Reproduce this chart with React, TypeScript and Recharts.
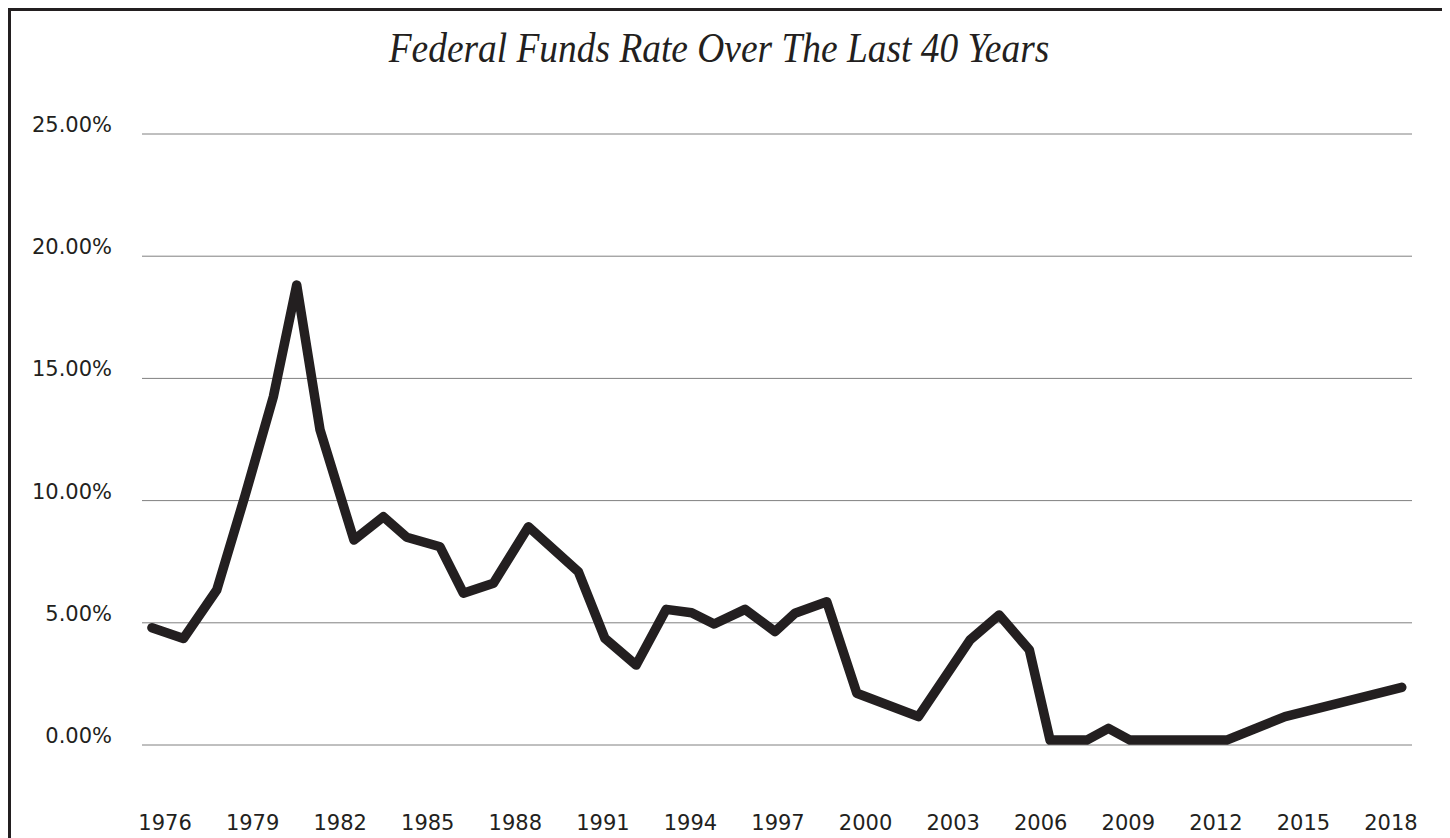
import { LineChart, Line, XAxis, YAxis, CartesianGrid } from 'recharts';

// decimal year at which each point sits on the dated axis
const years = [
  1975.55, 1976.63, 1977.77, 1978.74, 1979.71, 1980.51, 1981.31, 1982.47,
  1983.48, 1984.28, 1985.42, 1986.22, 1987.25, 1988.45, 1990.16, 1991.07,
  1992.14, 1993.17, 1994.04, 1994.81, 1995.87, 1996.9, 1997.58, 1998.67,
  1999.7, 2001.81, 2003.58, 2004.58, 2005.61, 2006.32, 2007.58, 2008.32,
  2009.06, 2012.37, 2014.37, 2018.37,
];

// federal funds rate, percent
const rates = [
  4.8, 4.36, 6.34, 10.2, 14.25, 18.82, 12.89, 8.39,
  9.34, 8.5, 8.11, 6.21, 6.62, 8.93, 7.09, 4.36,
  3.27, 5.55, 5.41, 4.95, 5.55, 4.64, 5.39, 5.86,
  2.12, 1.16, 4.3, 5.32, 3.89, 0.2, 0.2, 0.68,
  0.2, 0.2, 1.16, 2.36,
];

const yearTicks = [1976, 1979, 1982, 1985, 1988, 1991, 1994, 1997, 2000, 2003, 2006, 2009, 2012, 2015, 2018];
const rateTicks = [0, 5, 10, 15, 20, 25];
const yearDomain = [1975.21, 2018.72];

const data = years.map((year, i) => ({ year, rate: rates[i] }));

const INK = '#231f20';
const LABEL_FONT = '"DejaVu Sans", Verdana, sans-serif';

const RateTick = ({ x, y, payload }: any) => (
  <text x={x} y={y - 2} textAnchor="end" fontFamily={LABEL_FONT} fontSize={21} fill={INK}>
    {Number(payload.value).toFixed(2)}%
  </text>
);

const YearTick = ({ x, y, payload }: any) => (
  <text x={x} y={y + 85} textAnchor="middle" fontFamily={LABEL_FONT} fontSize={21} fill={INK}>
    {payload.value}
  </text>
);

export default function App() {
  return (
    <div
      style={{
        position: 'relative',
        width: 1432,
        height: 850,
        border: `3px solid ${INK}`,
        background: '#fff',
      }}
    >
      <style>{'body { overflow: hidden; }'}</style>
      <div
        style={{
          position: 'absolute',
          top: 15,
          left: 0,
          width: 1432,
          textAlign: 'center',
          fontFamily: '"Liberation Serif", "Times New Roman", serif',
          fontStyle: 'italic',
          fontSize: 43,
          lineHeight: '43px',
          color: INK,
          transform: 'translateX(-8px) scaleX(0.87)',
        }}
      >
        Federal Funds Rate Over The Last 40 Years
      </div>
      <LineChart width={1432} height={840} data={data} margin={{ top: 123, right: 31, left: 0, bottom: 46 }}>
        <CartesianGrid vertical={false} stroke="#808080" strokeWidth={1} />
        <XAxis
          dataKey="year"
          type="number"
          domain={yearDomain}
          ticks={yearTicks}
          allowDataOverflow
          axisLine={false}
          tickLine={false}
          tickSize={0}
          tickMargin={0}
          height={60}
          interval={0}
          tick={<YearTick />}
        />
        <YAxis
          type="number"
          domain={[0, 25]}
          ticks={rateTicks}
          axisLine={false}
          tickLine={false}
          tickSize={0}
          tickMargin={30}
          width={131}
          interval={0}
          tick={<RateTick />}
        />
        <Line
          dataKey="rate"
          type="linear"
          stroke={INK}
          strokeWidth={9.5}
          strokeLinejoin="round"
          strokeLinecap="round"
          dot={false}
          activeDot={false}
          isAnimationActive={false}
        />
      </LineChart>
    </div>
  );
}
